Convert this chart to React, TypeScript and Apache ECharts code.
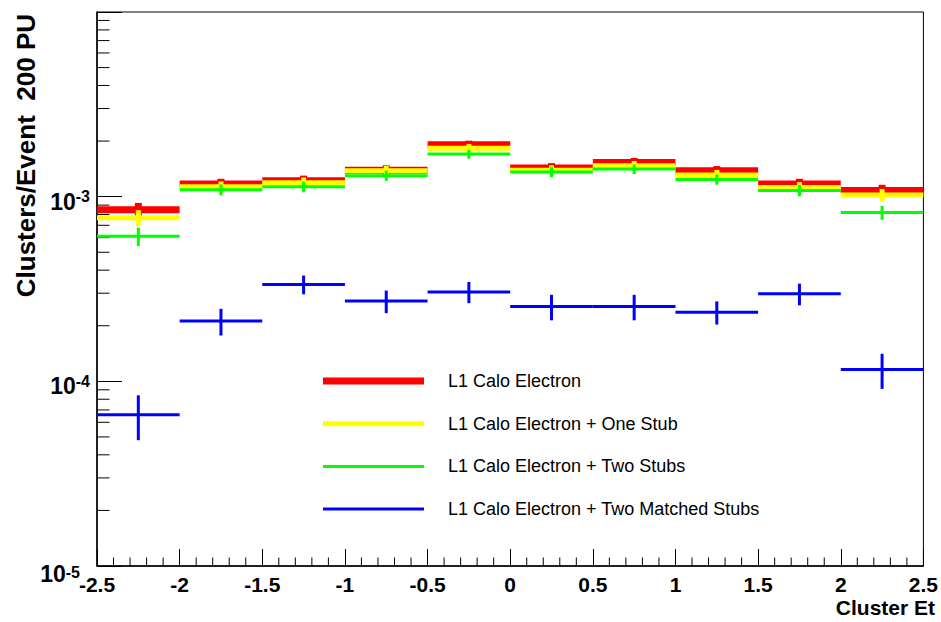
import React, { useEffect, useRef } from "react";
import * as echarts from "echarts";

// ---------------- data ----------------
const binLow = [-2.5, -2, -1.5, -1, -0.5, 0, 0.5, 1, 1.5, 2];
const binHigh = [-2, -1.5, -1, -0.5, 0, 0.5, 1, 1.5, 2, 2.5];

const seriesNames = [
  "L1 Calo Electron",
  "L1 Calo Electron + One Stub",
  "L1 Calo Electron + Two Stubs",
  "L1 Calo Electron + Two Matched Stubs",
];

const redValues = [8.5e-4, 1.17e-3, 1.22e-3, 1.39e-3, 1.91e-3, 1.43e-3, 1.53e-3, 1.38e-3, 1.17e-3, 1.08e-3];
const redErrors = [7.5e-5, 8e-5, 8e-5, 9e-5, 1.0e-4, 9e-5, 9e-5, 8.5e-5, 8e-5, 8e-5];

const yellowValues = [7.7e-4, 1.13e-3, 1.19e-3, 1.38e-3, 1.83e-3, 1.39e-3, 1.47e-3, 1.31e-3, 1.12e-3, 1.02e-3];
const yellowErrors = [7.5e-5, 8e-5, 8e-5, 9e-5, 1.0e-4, 9e-5, 9e-5, 8.5e-5, 8e-5, 8e-5];

const greenValues = [6.1e-4, 1.09e-3, 1.13e-3, 1.30e-3, 1.70e-3, 1.36e-3, 1.41e-3, 1.24e-3, 1.08e-3, 8.2e-4];
const greenErrors = [7e-5, 7.5e-5, 7.5e-5, 8.5e-5, 9.5e-5, 8.5e-5, 8.5e-5, 8e-5, 7.5e-5, 7e-5];

const blueValues = [6.6e-5, 2.12e-4, 3.35e-4, 2.72e-4, 3.05e-4, 2.54e-4, 2.54e-4, 2.37e-4, 2.98e-4, 1.16e-4];
const blueErrors = [1.8e-5, 3.5e-5, 3.9e-5, 3.8e-5, 4.0e-5, 4.0e-5, 4.0e-5, 3.4e-5, 4.0e-5, 2.5e-5];

const yMinorTicks = [
  2e-5, 3e-5, 4e-5, 5e-5, 6e-5, 7e-5, 8e-5, 9e-5,
  2e-4, 3e-4, 4e-4, 5e-4, 6e-4, 7e-4, 8e-4, 9e-4,
  2e-3, 3e-3, 4e-3, 5e-3, 6e-3, 7e-3, 8e-3, 9e-3,
];

const xMinorTicks = [
  -2.4, -2.3, -2.2, -2.1, -1.9, -1.8, -1.7, -1.6, -1.4, -1.3, -1.2, -1.1,
  -0.9, -0.8, -0.7, -0.6, -0.4, -0.3, -0.2, -0.1, 0.1, 0.2, 0.3, 0.4,
  0.6, 0.7, 0.8, 0.9, 1.1, 1.2, 1.3, 1.4, 1.6, 1.7, 1.8, 1.9, 2.1, 2.2, 2.3, 2.4,
];

const xTitle = "Cluster Et";
const yTitle = "Clusters/Event  200 PU";

// ---------------- styles ----------------
const FONT = "'Liberation Sans', Arial, Helvetica, sans-serif";
const colors = ["#ff0000", "#ffff00", "#00ff00", "#0000ff"];
const widths = [7, 5, 3, 3];

function makeRows(values: number[], errors: number[]) {
  return values.map((v, i) => [binLow[i], binHigh[i], v, errors[i]]);
}

function histRenderItem(color: string, lw: number) {
  return (params: any, api: any) => {
    const lo = api.value(0);
    const hi = api.value(1);
    const v = api.value(2);
    const e = api.value(3);
    const c = (lo + hi) / 2;
    const pL = api.coord([lo, v]);
    const pR = api.coord([hi, v]);
    const pT = api.coord([c, v + e]);
    const pB = api.coord([c, v - e]);
    return {
      type: "group",
      children: [
        {
          type: "line",
          shape: { x1: pL[0], y1: pL[1], x2: pR[0], y2: pR[1] },
          style: { stroke: color, lineWidth: lw, lineCap: "butt" },
        },
        {
          type: "line",
          shape: { x1: pT[0], y1: pT[1], x2: pB[0], y2: pB[1] },
          style: { stroke: color, lineWidth: lw, lineCap: "butt" },
        },
      ],
    };
  };
}

export default function App() {
  const ref = useRef<HTMLDivElement>(null);

  useEffect(() => {
    if (!ref.current) return;
    const chart = echarts.init(ref.current, undefined, { renderer: "svg" });

    const rows = [
      makeRows(redValues, redErrors),
      makeRows(yellowValues, yellowErrors),
      makeRows(greenValues, greenErrors),
      makeRows(blueValues, blueErrors),
    ];

    const histSeries = rows.map((data, i) => ({
      type: "custom",
      name: seriesNames[i],
      data,
      encode: { x: [0, 1], y: 2 },
      itemStyle: { color: colors[i] },
      renderItem: histRenderItem(colors[i], widths[i]),
      clip: false,
      silent: true,
      z: 2 + i,
    }));

    const yMinorSeries = {
      type: "custom",
      name: "yMinor",
      data: yMinorTicks.map((v) => [v]),
      encode: { y: 0 },
      silent: true,
      clip: false,
      z: 1,
      renderItem: (params: any, api: any) => {
        const v = api.value(0);
        const p = api.coord([-2.5, v]);
        return {
          type: "line",
          shape: { x1: p[0], y1: p[1], x2: p[0] + 12.5, y2: p[1] },
          style: { stroke: "#000", lineWidth: 1 },
        };
      },
    };

    const xMinorSeries = {
      type: "custom",
      name: "xMinor",
      data: xMinorTicks.map((v) => [v]),
      encode: { x: 0 },
      silent: true,
      clip: false,
      z: 1,
      renderItem: (params: any, api: any) => {
        const v = api.value(0);
        const p = api.coord([v, 1e-5]);
        return {
          type: "line",
          shape: { x1: p[0], y1: p[1], x2: p[0], y2: p[1] - 8.5 },
          style: { stroke: "#000", lineWidth: 1 },
        };
      },
    };

    const legendRowTop = 372;
    const legendRowStep = 42.7;

    chart.setOption({
      animation: false,
      backgroundColor: "#fff",
      grid: {
        left: 97,
        right: 14,
        top: 12,
        bottom: 56,
        show: true,
        borderColor: "#000",
        borderWidth: 1,
      },
      xAxis: {
        type: "value",
        min: -2.5,
        max: 2.5,
        interval: 0.5,
        axisLine: { show: true, onZero: false, lineStyle: { color: "#000", width: 1.5 } },
        axisTick: { show: true, inside: true, length: 17, lineStyle: { color: "#000" } },
        splitLine: { show: false },
        axisLabel: {
          color: "#000",
          fontFamily: FONT,
          fontWeight: "bold",
          fontSize: 21,
          margin: 8,
        },
      },
      yAxis: {
        type: "log",
        logBase: 10,
        min: 1e-5,
        max: 1e-2,
        axisLine: { show: true, onZero: false, lineStyle: { color: "#000", width: 1.5 } },
        axisTick: { show: true, inside: true, length: 25, lineStyle: { color: "#000" } },
        splitLine: { show: false },
        axisLabel: {
          margin: 7,
          padding: [10, 0, 0, 0],
          formatter: (v: number) => {
            const e = Math.round(Math.log10(v));
            if (e === -2) return "";
            if (e === -5) return `{b5|10}{s5|${e}}`;
            return `{b|10}{s|${e}}`;
          },
          rich: {
            b: { fontFamily: FONT, fontWeight: "bold", fontSize: 23, color: "#000", lineHeight: 26 },
            s: { fontFamily: FONT, fontWeight: "bold", fontSize: 16, color: "#000", lineHeight: 12, verticalAlign: "top" },
            b5: { fontFamily: FONT, fontWeight: "bold", fontSize: 23, color: "#000", lineHeight: 26, padding: [6, 0, 0, 0] },
            s5: { fontFamily: FONT, fontWeight: "bold", fontSize: 16, color: "#000", lineHeight: 12, padding: [6, 10, 0, 0], verticalAlign: "top" },
          },
        },
      },
      legend: seriesNames.map((name, i) => ({
        data: [{ name, icon: "rect" }],
        left: 323,
        top: legendRowTop + i * legendRowStep,
        orient: "vertical",
        itemWidth: 101,
        itemHeight: widths[i],
        padding: 0,
        selectedMode: false,
        textStyle: {
          fontFamily: FONT,
          fontSize: 18,
          color: "#000",
          padding: [0, 0, 0, 19],
        },
      })),
      graphic: [
        {
          type: "text",
          x: 26,
          y: 14,
          rotation: Math.PI / 2,
          style: {
            text: yTitle,
            font: `bold 26px ${FONT}`,
            fill: "#000",
            align: "right",
            verticalAlign: "middle",
          },
        },
        {
          type: "text",
          x: 935,
          y: 607,
          style: {
            text: xTitle,
            font: `bold 21px ${FONT}`,
            fill: "#000",
            align: "right",
            verticalAlign: "middle",
          },
        },
      ],
      series: [yMinorSeries, xMinorSeries, ...histSeries],
    });

    return () => chart.dispose();
  }, []);

  return (
    <div
      ref={ref}
      style={{ position: "fixed", left: 0, top: 0, width: 941, height: 622, background: "#fff" }}
    />
  );
}
